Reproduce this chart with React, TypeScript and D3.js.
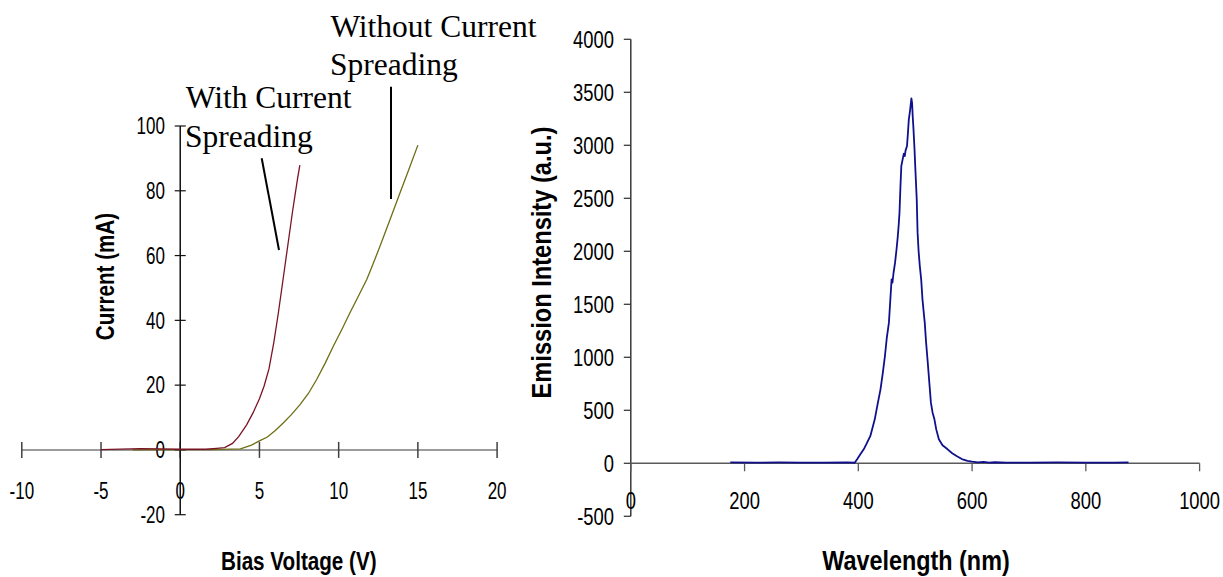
import React from "react";
import * as d3 from "d3";

// Left chart: I-V curves
const withSpreadV = [-5, -2.5, 0, 1.6, 2.3, 2.8, 3.3, 3.7, 4.2, 4.6, 5.0, 5.3, 5.6, 5.9, 6.2, 6.5, 6.8, 7.1, 7.4, 7.55];
const withSpreadI = [0.1, 0.4, 0.2, 0.2, 0.5, 0.7, 2.0, 4.2, 7.8, 11.5, 15.8, 19.8, 25, 33, 42.5, 53, 63.5, 74, 83.6, 87.9];
const withoutSpreadV = [-3, 0, 2, 3.8, 4.5, 5.0, 5.5, 6.0, 6.5, 7.0, 7.56, 8.1, 8.62, 9.15, 9.67, 10.2, 10.72, 11.25, 11.78, 12.2, 12.62, 13.25, 13.88, 14.5, 15.0];
const withoutSpreadI = [0, 0.1, 0.1, 0.3, 1.5, 2.8, 4.0, 6.0, 8.3, 10.8, 14.0, 17.5, 21.8, 26.8, 32.1, 37.2, 42.4, 47.5, 52.7, 57.8, 63, 71.2, 79.5, 87.5, 94.1];
const leftXTicks = [-10, -5, 0, 5, 10, 15, 20];
const leftYTicks = [-20, 0, 20, 40, 60, 80, 100];

// Right chart: emission spectrum
const wavelength = [175, 220, 260, 300, 340, 380, 393.6, 397.9, 403, 409.5, 415, 421.2, 428.9, 434, 439, 443, 446.8, 450, 453.8, 456, 458.5, 460, 462, 464.6, 467, 469.2, 471, 472.4, 474, 475.6, 478, 480, 481.7, 483, 485.6, 487, 488.8, 491, 493.3, 494.5, 495.6, 497, 498.8, 500.5, 502.7, 504.2, 506, 508.1, 510.5, 512.8, 514.5, 516.8, 519, 522.1, 525, 527.6, 530.5, 533.8, 537, 541.6, 548, 557, 565, 572.7, 582, 592, 600, 610, 620, 630, 640, 660, 700, 750, 800, 850, 875];
const intensity = [8, 6, 8, 7, 6, 8, 5, 38, 80, 132, 190, 258, 415, 560, 698, 850, 1012, 1180, 1327, 1520, 1736, 1705, 1800, 1893, 2010, 2129, 2250, 2365, 2600, 2805, 2870, 2920, 2899, 2950, 2993, 3100, 3245, 3330, 3443, 3400, 3276, 3150, 2962, 2750, 2490, 2176, 2000, 1861, 1736, 1547, 1450, 1327, 1150, 950, 750, 572, 480, 415, 320, 226, 170, 132, 95, 69, 40, 22, 15, 9, 14, 7, 10, 6, 7, 8, 6, 7, 8];
const rightXTicks = [0, 200, 400, 600, 800, 1000];
const rightYTicks = [-500, 0, 500, 1000, 1500, 2000, 2500, 3000, 3500, 4000];

const SANS = "'Liberation Sans', Arial, sans-serif";
const SERIF = "'Liberation Serif', 'Times New Roman', serif";

type TProps = {
  x: number;
  y: number;
  sx: number;
  size: number;
  anchor?: "start" | "middle" | "end";
  bold?: boolean;
  rotate?: number;
  central?: boolean;
  children: React.ReactNode;
};

function T({ x, y, sx, size, anchor = "middle", bold = false, rotate = 0, central = false, children }: TProps) {
  return (
    <g transform={`translate(${x},${y}) rotate(${rotate}) scale(${sx},1)`}>
      <text
        x={0}
        y={0}
        textAnchor={anchor}
        dominantBaseline={central ? "central" : undefined}
        fontFamily={SANS}
        fontWeight={bold ? "bold" : "normal"}
        fontSize={size}
        fill="#000"
      >
        {children}
      </text>
    </g>
  );
}

export default function App() {
  const xL = d3.scaleLinear().domain([-10, 20]).range([21.8, 497.1]);
  const yL = d3.scaleLinear().domain([-20, 100]).range([514.7, 126]);
  const xR = d3.scaleLinear().domain([0, 1000]).range([630.8, 1199.6]);
  const yR = d3.scaleLinear().domain([-500, 4000]).range([516.3, 39.3]);

  const lineL = d3.line<[number, number]>().x((d) => xL(d[0])).y((d) => yL(d[1]));
  const lineR = d3.line<[number, number]>().x((d) => xR(d[0])).y((d) => yR(d[1]));

  const redPts = withSpreadV.map((v, i) => [v, withSpreadI[i]] as [number, number]);
  const olivePts = withoutSpreadV.map((v, i) => [v, withoutSpreadI[i]] as [number, number]);
  const specPts = wavelength.map((w, i) => [w, intensity[i]] as [number, number]);

  const x0L = xL(0);
  const y0L = yL(0);
  const x0R = xR(0);
  const y0R = yR(0);

  return (
    <svg
      width={1223}
      height={577}
      style={{ position: "absolute", left: 0, top: 0, background: "#fff" }}
    >
      <rect x={0} y={0} width={1223} height={577} fill="#fff" />
      {/* LEFT CHART */}
      <g>
        <line x1={xL(-10)} x2={xL(20)} y1={y0L} y2={y0L} stroke="#7a7a7a" strokeWidth={1.5} />
        {leftXTicks.map((t) => (
          <line key={"lxt" + t} x1={xL(t)} x2={xL(t)} y1={y0L - 8} y2={y0L + 8} stroke="#404040" strokeWidth={1.5} />
        ))}
        {leftXTicks.map((t) => (
          <T key={"lxl" + t} x={xL(t)} y={498.7} sx={0.74} size={23}>
            {t}
          </T>
        ))}
        <line x1={x0L} x2={x0L} y1={yL(100)} y2={yL(-20)} stroke="#111" strokeWidth={1.5} />
        {leftYTicks.map((t) => (
          <line key={"lyt" + t} x1={x0L - 5.5} x2={x0L + 5.5} y1={yL(t)} y2={yL(t)} stroke="#111" strokeWidth={1.2} />
        ))}
        {leftYTicks.map((t) => (
          <T key={"lyl" + t} x={165} y={yL(t) + 8.2} sx={0.74} size={23} anchor="end">
            {t}
          </T>
        ))}
        <path d={lineL(olivePts) || ""} fill="none" stroke="#6e6e14" strokeWidth={1.3} />
        <path d={lineL(redPts) || ""} fill="none" stroke="#7a1424" strokeWidth={1.3} />
        <T x={298.8} y={570} sx={0.81} size={25.5} bold>
          Bias Voltage (V)
        </T>
        <T x={105.4} y={276.5} sx={0.81} size={25.5} bold rotate={-90} central>
          Current (mA)
        </T>
        <text fontFamily={SERIF} fontSize={31.5} fill="#000">
          <tspan x={185.7} y={108.3}>With Current</tspan>
          <tspan x={185} y={146.7}>Spreading</tspan>
        </text>
        <line x1={261.7} y1={158.3} x2={279} y2={250} stroke="#000" strokeWidth={2} />
        <text fontFamily={SERIF} fontSize={31.5} fill="#000">
          <tspan x={330.4} y={36.5}>Without Current</tspan>
          <tspan x={330} y={75}>Spreading</tspan>
        </text>
        <line x1={391} y1={86.7} x2={391} y2={199} stroke="#000" strokeWidth={2} />
      </g>

      {/* RIGHT CHART */}
      <g>
        <line x1={x0R} x2={x0R} y1={yR(4000)} y2={yR(-500)} stroke="#3a3a3a" strokeWidth={1.5} />
        {rightYTicks.map((t) => (
          <line key={"ryt" + t} x1={x0R - 7} x2={x0R} y1={yR(t)} y2={yR(t)} stroke="#3a3a3a" strokeWidth={1.3} />
        ))}
        {rightYTicks.map((t) => (
          <T key={"ryl" + t} x={614} y={yR(t) + 8.2} sx={0.8} size={23} anchor="end">
            {t}
          </T>
        ))}
        <line x1={xR(0)} x2={xR(1000)} y1={y0R} y2={y0R} stroke="#5a5a5a" strokeWidth={1.5} />
        {rightXTicks.map((t) => (
          <line key={"rxt" + t} x1={xR(t)} x2={xR(t)} y1={y0R} y2={y0R + 8} stroke="#5a5a5a" strokeWidth={1.3} />
        ))}
        {rightXTicks.map((t) => (
          <T key={"rxl" + t} x={xR(t)} y={508.7} sx={0.8} size={23}>
            {t}
          </T>
        ))}
        <path d={lineR(specPts) || ""} fill="none" stroke="#10108c" strokeWidth={1.8} strokeLinejoin="round" />
        <T x={916} y={570} sx={0.85} size={27.5} bold>
          Wavelength (nm)
        </T>
        <T x={541} y={262.5} sx={0.86} size={27.5} bold rotate={-90} central>
          Emission Intensity (a.u.)
        </T>
      </g>
    </svg>
  );
}
